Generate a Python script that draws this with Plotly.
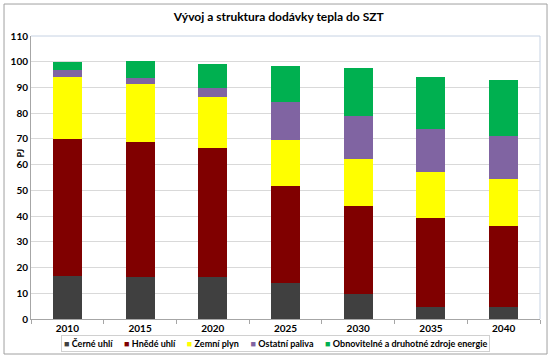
import plotly.graph_objects as go

years = ["2010", "2015", "2020", "2025", "2030", "2035", "2040"]
cerne_uhli = [16.7, 16.5, 16.5, 13.9, 9.7, 4.8, 4.8]
hnede_uhli = [53.1, 52.4, 49.8, 37.8, 34.3, 34.3, 31.5]
zemni_plyn = [24.2, 22.3, 19.9, 17.7, 18.1, 17.9, 18.1]
ostatni_paliva = [2.8, 2.6, 3.5, 14.9, 16.8, 16.9, 16.7]
obnovitelne = [3.2, 6.6, 9.4, 14.0, 18.8, 20.3, 21.9]

series = [
    ("Černé uhlí", cerne_uhli, "#404040"),
    ("Hnědé uhlí", hnede_uhli, "#800000"),
    ("Zemní plyn", zemni_plyn, "#FFFF00"),
    ("Ostatní paliva", ostatni_paliva, "#8064A2"),
    ("Obnovitelné a druhotné zdroje energie", obnovitelne, "#00B050"),
]

FONT = "Lato, 'Open Sans', sans-serif"

fig = go.Figure()
for name, vals, col in series:
    fig.add_trace(go.Bar(x=years, y=vals, name=name, showlegend=False,
                         marker=dict(color=col, line=dict(width=0))))

fig.update_layout(
    width=552, height=361,
    barmode="stack", bargap=0.6,
    paper_bgcolor="white", plot_bgcolor="white",
    margin=dict(l=31, r=12, t=36, b=42),
    font=dict(family=FONT, size=10, color="#000000"),
    title=dict(text="<b>Vývoj a struktura dodávky tepla do SZT</b>", x=0.505, xanchor="center",
               y=0.953, yanchor="middle", font=dict(size=12, family=FONT)),
    showlegend=False,
)
fig.update_xaxes(type="category", showgrid=False, showline=True, linecolor="#A6A6A6", linewidth=1,
                 ticks="outside", tickson="boundaries", ticklen=4, tickcolor="#A6A6A6",
                 tickfont=dict(size=10, family=FONT), tickprefix="<b>", ticksuffix="</b>")
fig.update_yaxes(range=[0, 110], dtick=10, showgrid=True, gridcolor="#D9D9D9", gridwidth=1,
                 showline=True, linecolor="#A6A6A6", linewidth=1, zeroline=False,
                 ticks="", tickfont=dict(size=10, family=FONT), tickprefix="<b>", ticksuffix="</b>")

# plot area frame (top/right light blue)
fig.add_shape(type="line", xref="paper", yref="paper", x0=0, x1=1, y0=1, y1=1,
              line=dict(color="#C6D2E3", width=1))
fig.add_shape(type="line", xref="paper", yref="paper", x0=1, x1=1, y0=0, y1=1,
              line=dict(color="#C6D2E3", width=1))
# outer chart border
fig.add_shape(type="rect", xref="paper", yref="paper", x0=-0.053, x1=1.0138, y0=-0.1237, y1=1.113,
              line=dict(color="#A0A0A0", width=1))

fig.add_annotation(text="<b>PJ</b>", xref="paper", yref="paper", x=-0.035, y=0.587,
                   textangle=-90, showarrow=False, font=dict(size=9, family=FONT))

# legend as a single boxed annotation
gap = "&nbsp;" * 5
legend_text = gap.join(
    f"<span style='color:{col}'>■</span>&nbsp;<b>{name}</b>" for name, _, col in series
)
fig.add_annotation(text=legend_text, xref="paper", yref="paper", x=0.481, y=-0.088,
                   xanchor="center", yanchor="middle", showarrow=False,
                   font=dict(size=9, family=FONT, color="#000000"),
                   bordercolor="#D0D0D0", borderwidth=1, borderpad=2, bgcolor="white")

fig.write_html("out.html", config={"displayModeBar": False},
               post_script="document.body.style.margin='0';")
